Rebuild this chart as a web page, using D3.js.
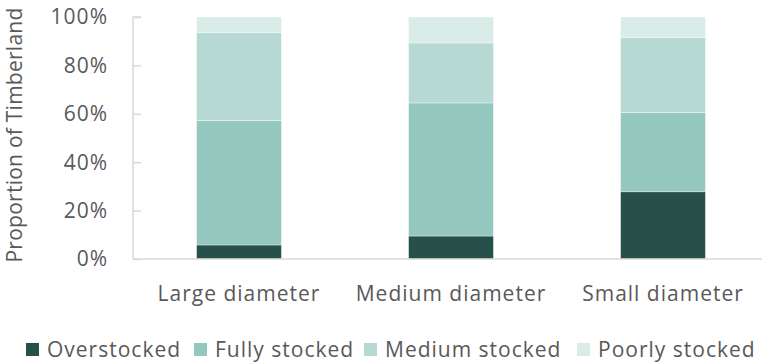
<!DOCTYPE html>
<html>
<head>
<meta charset="utf-8">
<script src="https://cdn.jsdelivr.net/npm/d3@7"></script>
<style>
  html, body { margin: 0; padding: 0; background: #fff; }
  svg text { font-family: "Open Sans", Lato, sans-serif; fill: #595959; letter-spacing: 1px; }
</style>
</head>
<body>
<svg id="chart" width="762" height="364"></svg>
<script>
// Stocking class shares by diameter class (fraction of timberland)
const categories = ["Large diameter", "Medium diameter", "Small diameter"];
const seriesNames = ["Overstocked", "Fully stocked", "Medium stocked", "Poorly stocked"];
const overstocked   = [0.058, 0.095, 0.278];
const fullyStocked  = [0.514, 0.550, 0.327];
const mediumStocked = [0.363, 0.248, 0.310];
const poorlyStocked = [0.065, 0.107, 0.085];
const yTicks = [0, 0.2, 0.4, 0.6, 0.8, 1.0];
const colors = ["#27504a", "#94c7bd", "#b7d9d3", "#daece8"];

const rows = categories.map((c, i) => ({
  category: c,
  "Overstocked": overstocked[i],
  "Fully stocked": fullyStocked[i],
  "Medium stocked": mediumStocked[i],
  "Poorly stocked": poorlyStocked[i]
}));

const svg = d3.select("#chart");
const plot = { left: 133, right: 769, top: 17, bottom: 259 };
const fontSize = 21;

const x = d3.scaleBand().domain(categories).range([plot.left, plot.right]).paddingInner(0.6).paddingOuter(0.3);
const y = d3.scaleLinear().domain([0, 1]).range([plot.bottom, plot.top]);
const color = d3.scaleOrdinal().domain(seriesNames).range(colors);

const layers = d3.stack().keys(seriesNames)(rows);

// stacked bars
svg.append("g").selectAll("g").data(layers).join("g")
  .attr("fill", d => color(d.key))
  .selectAll("rect").data(d => d).join("rect")
  .attr("x", d => x(d.data.category))
  .attr("width", x.bandwidth())
  .attr("y", d => y(d[1]))
  .attr("height", d => y(d[0]) - y(d[1]))
  .attr("stroke", "#ffffff")
  .attr("stroke-opacity", 0.45)
  .attr("stroke-width", 0.8);

// y axis: line with inward ticks
const yAxis = svg.append("g")
  .attr("transform", `translate(${plot.left},0)`)
  .call(d3.axisRight(y).tickValues(yTicks).tickSize(8).tickFormat(""));
yAxis.select(".domain").attr("stroke", "#d9d9d9").attr("stroke-width", 1.5)
  .attr("d", `M8,${plot.top}H0V${plot.bottom}`);
yAxis.selectAll(".tick line").attr("stroke", "#d9d9d9").attr("stroke-width", 1.5);

// y tick labels
svg.append("g").selectAll("text").data(yTicks).join("text")
  .attr("x", 108)
  .attr("y", d => y(d))
  .attr("dy", "0.35em")
  .attr("text-anchor", "end")
  .attr("font-size", fontSize)
  .text(d => d3.format(".0%")(d));

// baseline
svg.append("line")
  .attr("x1", plot.left).attr("x2", 762)
  .attr("y1", y(0)).attr("y2", y(0))
  .attr("stroke", "#d9d9d9").attr("stroke-width", 1.5);

// category labels
svg.append("g").selectAll("text").data(categories).join("text")
  .attr("x", d => x(d) + x.bandwidth() / 2)
  .attr("y", 301)
  .attr("text-anchor", "middle")
  .attr("font-size", fontSize)
  .text(d => d);

// y axis title
svg.append("text")
  .attr("transform", `translate(22,${(plot.top + plot.bottom) / 2 - 3}) rotate(-90)`)
  .attr("text-anchor", "middle")
  .attr("font-size", fontSize)
  .style("letter-spacing", "0.25px")
  .text("Proportion of Timberland");

// legend
const legendX = [26, 194, 364, 577];
const legend = svg.append("g").selectAll("g").data(seriesNames).join("g")
  .attr("transform", (d, i) => `translate(${legendX[i]},343)`);
legend.append("rect").attr("width", 13).attr("height", 13).attr("fill", d => color(d));
legend.append("text").attr("x", 21).attr("y", 14)
  .attr("font-size", fontSize).text(d => d);
</script>
</body>
</html>
